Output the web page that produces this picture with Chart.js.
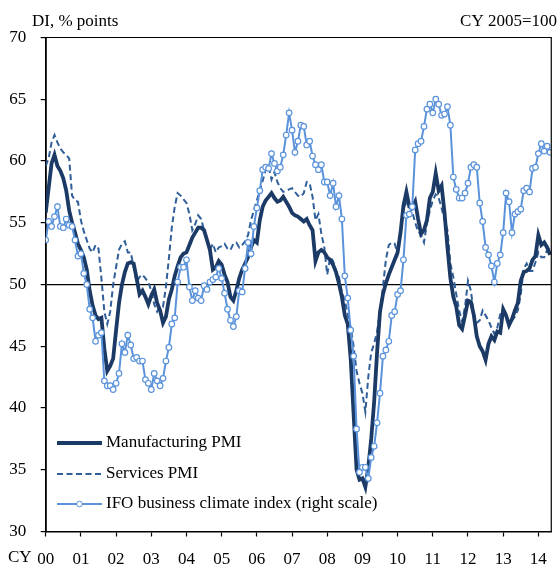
<!DOCTYPE html>
<html>
<head>
<meta charset="utf-8">
<script src="https://cdn.jsdelivr.net/npm/chart.js@4.4.1/dist/chart.umd.min.js"></script>
<style>
  html, body { margin: 0; padding: 0; background: #fff; }
  #wrap { width: 560px; height: 566px; }
</style>
</head>
<body>
<div id="wrap"><canvas id="grafico" width="560" height="566"></canvas></div>
<script>
// monthly, Jan 2000 = index 0
const yearLabels = ["00", "01", "02", "03", "04", "05", "06", "07", "08", "09", "10", "11", "12", "13", "14"];

const manufacturing = [
  55.8, 57.8, 59.8, 60.5, 59.6, 59.2, 58.6, 57.6, 56.0, 55.0, 54.2, 53.3,
  52.8, 52.2, 51.2, 49.5, 48.3, 47.5, 47.2, 47.3, 44.8, 43.0, 43.4, 44.0,
  46.3, 48.5, 50.0, 51.0, 51.7, 51.8, 51.7, 50.5, 49.2, 49.5, 49.0, 48.4,
  49.1, 49.6, 48.5, 47.9, 46.9, 47.4, 48.8, 49.6, 50.7, 51.5, 52.2, 52.5,
  52.6, 53.2, 53.8, 54.2, 54.6, 54.6, 54.4, 53.6, 52.8, 51.2, 51.4, 51.9,
  51.6, 50.8, 50.2, 49.0, 48.7, 49.5, 50.5, 51.2, 51.7, 52.2, 53.0, 53.6,
  53.4, 55.2, 56.3, 56.8, 57.1, 57.4, 57.0, 56.7, 56.8, 57.1, 56.7, 56.3,
  55.8, 55.6, 55.5, 55.3, 55.1, 55.3, 54.8, 54.4, 51.9, 52.6, 52.8, 52.6,
  52.2, 52.0, 51.6, 51.0, 50.1, 49.0, 47.5, 46.8, 44.0, 39.5, 35.0, 34.2,
  34.3, 33.6, 35.2, 37.5, 40.5, 44.5, 47.8, 49.2, 50.1, 50.8, 51.4, 52.0,
  52.6, 54.2, 56.4, 57.5, 56.3, 56.2, 56.7, 55.3, 54.1, 54.4, 55.2, 57.0,
  57.5, 59.0, 57.6, 58.0, 55.8, 53.0, 50.5, 49.0, 48.2, 46.7, 46.4, 47.5,
  48.7, 48.6, 47.5, 45.8, 45.0, 44.6, 43.9, 45.2, 45.8, 45.5, 46.2, 46.1,
  48.0, 47.5, 46.7, 47.2, 47.9, 48.5, 50.3, 51.0, 51.1, 51.3, 52.0, 52.3,
  54.0, 53.2, 53.4, 53.0, 52.4
];

const services = [
  59.6, 60.2, 61.5, 62.1, 61.5, 61.0, 60.7, 60.5, 60.2, 57.2, 56.8, 56.7,
  55.2, 54.3, 53.6, 52.9, 52.6, 53.2, 52.9, 50.5, 47.8, 46.8, 47.8, 50.0,
  51.4, 52.8, 53.3, 53.5, 52.6, 52.6, 51.4, 50.2, 50.6, 50.8, 50.5, 50.2,
  49.5, 48.4, 47.8, 48.2, 48.2, 49.8, 52.1, 54.6, 56.3, 57.4, 57.2, 56.9,
  56.6, 55.7, 54.4, 54.9, 55.6, 55.3, 54.4, 53.6, 52.8, 53.3, 52.6, 53.0,
  53.1, 53.3, 52.9, 52.8, 53.3, 53.4, 53.0, 53.2, 53.5, 54.0, 55.2, 56.0,
  56.8, 57.6, 58.4, 59.3, 59.6, 58.5, 59.1, 58.3, 57.8, 57.5, 57.6, 57.7,
  57.8, 57.5, 57.2, 57.1, 57.4, 58.3, 58.2, 57.1, 55.2, 55.7, 54.1, 53.0,
  50.8, 52.2, 51.9, 51.1, 50.6, 49.4, 48.7, 47.6, 46.5, 45.0, 43.0, 42.0,
  41.2, 39.7, 42.5, 44.5, 45.2, 46.2, 47.8, 49.8, 52.0, 53.2, 53.4, 53.3,
  52.5, 54.3, 56.2, 56.6, 56.3, 55.9, 55.0, 54.3, 54.0, 53.4, 55.0, 56.0,
  56.8, 57.3, 57.0, 56.2, 55.2, 54.4, 51.7, 50.6, 49.2, 47.9, 47.0, 48.2,
  50.3, 49.5, 47.6, 46.9, 47.1, 47.9, 47.5, 47.1, 46.5, 46.0, 46.5, 47.6,
  47.9, 47.3, 46.8, 47.1, 47.4, 47.9, 49.2, 51.3, 51.7, 51.1, 51.1, 51.8,
  52.6, 52.2, 52.2, 52.8, 53.0
];

// IFO plotted on the chart's position (right scale has no labels)
const ifo = [
  53.6, 55.1, 54.7, 55.5, 56.3, 54.7, 54.6, 55.3, 54.8, 54.7, 53.6, 52.3,
  52.5, 50.9, 50.0, 48.0, 47.3, 45.4, 45.9, 46.1, 42.2, 41.8, 41.8, 41.5,
  42.0, 42.8, 45.2, 44.5, 45.9, 45.1, 44.0, 44.1, 43.8, 43.8, 42.3, 42.0,
  41.5, 42.8, 42.2, 41.8, 42.4, 43.8, 44.9, 46.8, 47.3, 50.2, 51.4, 51.4,
  52.0, 49.8, 48.7, 49.5, 48.9, 48.7, 49.9, 49.6, 50.2, 50.4, 50.6, 51.3,
  50.5, 49.3, 48.0, 47.1, 46.6, 47.4, 49.5, 49.4, 51.3, 53.4, 52.5, 54.7,
  56.2, 57.6, 59.3, 59.5, 59.4, 60.6, 59.8, 59.2, 59.5, 60.5, 62.1, 63.9,
  62.5, 60.7, 61.6, 62.9, 62.8, 61.3, 61.6, 60.4, 59.7, 59.3, 59.7, 58.3,
  58.3, 57.2, 58.2, 56.3, 57.2, 55.3, 50.7, 48.9, 46.3, 44.2, 38.3, 34.8,
  35.2, 35.2, 34.3, 36.0, 36.9, 38.8, 41.2, 44.2, 44.7, 45.4, 47.5, 47.8,
  49.2, 49.5, 52.0, 55.6, 55.7, 56.3, 60.9, 61.4, 61.6, 62.8, 64.2, 64.6,
  63.9, 65.0, 64.6, 63.7, 63.8, 64.4, 62.9, 58.7, 57.7, 57.0, 57.0, 57.4,
  58.2, 59.5, 59.7, 59.5, 56.6, 55.1, 53.0, 52.4, 51.5, 50.2, 51.7, 52.4,
  54.2, 57.4, 56.7, 54.2, 55.7, 55.9, 56.1, 57.6, 57.8, 57.5, 59.4, 59.5,
  60.6, 61.4, 60.8, 61.2, 60.7
];

const yTicks = [30, 35, 40, 45, 50, 55, 60, 65, 70];

const fonte = "'Liberation Serif', 'Times New Roman', serif";
const corMfg = "#1b3a66";
const corSvc = "#2f5e98";
const corIfo = "#5a93db";

function pontos(serie) {
  return serie.map((v, i) => ({ x: i, y: v }));
}

const extras = {
  id: "extras",
  afterDraw(chart) {
    const ctx = chart.ctx;
    const a = chart.chartArea;
    ctx.save();
    ctx.strokeStyle = "#000";
    ctx.lineWidth = 1.2;
    ctx.beginPath();
    ctx.moveTo(a.left, a.top);
    ctx.lineTo(a.right, a.top);
    ctx.lineTo(a.right, a.bottom);
    ctx.stroke();

    ctx.fillStyle = "#000";
    ctx.font = "17px " + fonte;
    ctx.textBaseline = "middle";
    ctx.textAlign = "left";
    ctx.fillText("DI, % points", 32, 22);
    ctx.fillText("CY", 8, 558);
    ctx.textAlign = "right";
    ctx.fillText("CY 2005=100", 557, 22);

    // legend inside the plot
    const rows = [443, 474, 504];
    ctx.textAlign = "left";
    chart.data.datasets.forEach((ds, i) => {
      const y = rows[i];
      ctx.strokeStyle = ds.borderColor;
      ctx.lineWidth = ds.borderWidth;
      ctx.setLineDash(ds.borderDash || []);
      ctx.beginPath();
      ctx.moveTo(57, y);
      ctx.lineTo(102, y);
      ctx.stroke();
      ctx.setLineDash([]);
      if (ds.pointRadius > 0) {
        ctx.fillStyle = "#fff";
        ctx.lineWidth = 1;
        ctx.beginPath();
        ctx.arc(79.5, y, ds.pointRadius, 0, Math.PI * 2);
        ctx.fill();
        ctx.stroke();
      }
      ctx.fillStyle = "#000";
      ctx.fillText(ds.label, 106, y);
    });
    ctx.restore();
  },
};

const grafico = new Chart(document.getElementById("grafico"), {
  type: "line",
  data: {
    datasets: [
      {
        label: "Manufacturing PMI",
        data: pontos(manufacturing),
        borderColor: corMfg,
        borderWidth: 3.8,
        pointRadius: 0,
        order: 2,
      },
      {
        label: "Services PMI",
        data: pontos(services),
        borderColor: corSvc,
        borderWidth: 2,
        borderDash: [6, 3.5],
        pointRadius: 0,
        order: 3,
      },
      {
        label: "IFO business climate index (right scale)",
        data: pontos(ifo),
        borderColor: corIfo,
        borderWidth: 2,
        pointRadius: 2.8,
        pointBorderWidth: 1.2,
        pointBackgroundColor: "#fff",
        pointBorderColor: corIfo,
        order: 1,
      },
    ],
  },
  options: {
    responsive: false,
    animation: false,
    layout: { padding: { top: 37.5, right: 1.5, left: 0, bottom: 0 } },
    plugins: { legend: { display: false }, tooltip: { enabled: false } },
    scales: {
      x: {
        type: "linear",
        min: 0,
        max: 172.4,
        afterFit: (s) => { s.height = 34.5; },
        afterBuildTicks: (s) => { s.ticks = yearLabels.map((_, i) => ({ value: i * 12 })); },
        ticks: {
          color: "#000",
          font: { family: fonte, size: 17 },
          padding: 13,
          maxRotation: 0,
          autoSkip: false,
          callback: (v) => yearLabels[v / 12],
        },
        grid: { drawOnChartArea: false, tickLength: 5, tickColor: "#000", tickWidth: 1.2 },
        border: { color: "#000", width: 1.5 },
      },
      y: {
        min: 30,
        max: 70,
        afterFit: (s) => { s.width = 45.7; },
        afterBuildTicks: (s) => { s.ticks = yTicks.map((v) => ({ value: v })); },
        ticks: {
          color: "#000",
          font: { family: fonte, size: 17 },
          padding: 14.5,
        },
        grid: {
          tickLength: 5,
          tickColor: "#000",
          tickWidth: 1.2,
          lineWidth: 1.2,
          color: (c) => (c.tick && c.tick.value === 50 ? "#000" : "rgba(0,0,0,0)"),
        },
        border: { color: "#000", width: 1.8 },
      },
    },
  },
  plugins: [extras],
});
</script>
</body>
</html>
